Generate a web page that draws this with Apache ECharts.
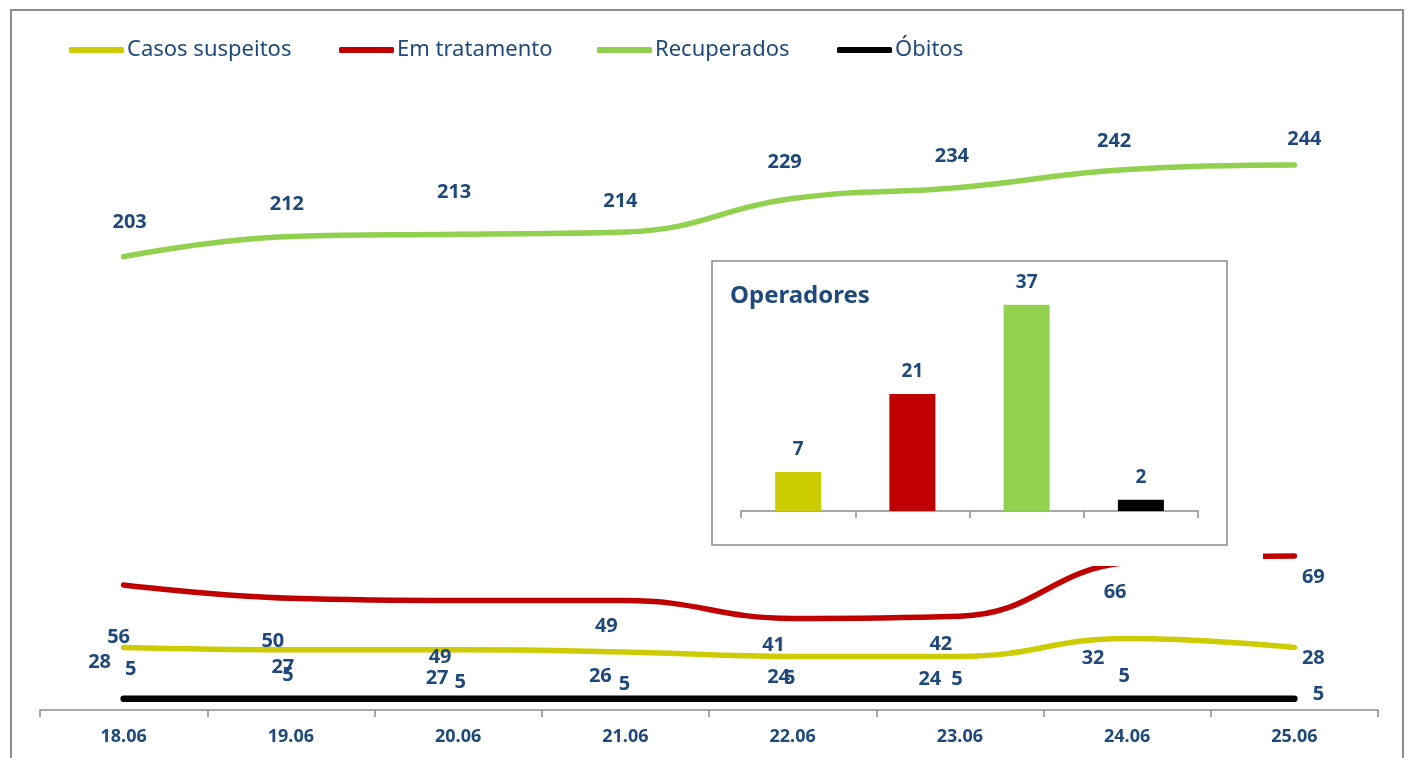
<!DOCTYPE html>
<html>
<head>
<meta charset="utf-8">
<script src="https://cdn.jsdelivr.net/npm/echarts@6/dist/echarts.min.js"></script>
<style>
html,body{margin:0;padding:0;background:#fff;}
#chart{width:1410px;height:758px;}
</style>
</head>
<body>
<div id="chart"></div>
<script>
// ---- data ----
const dates = ['18.06','19.06','20.06','21.06','22.06','23.06','24.06','25.06'];
const seriesNames = ['Casos suspeitos','Em tratamento','Recuperados','Óbitos'];
const casosSuspeitos = [28,27,27,26,24,24,32,28];
const emTratamento = [56,50,49,49,41,42,66,69];
const recuperados = [203,212,213,214,229,234,242,244];
const obitos = [5,5,5,5,5,5,5,5];
const operadoresValues = [7,21,37,2];

// ---- label nudges (layout, px) ----
const nudgeCasos = [[-24,15],[-8,18],[-21,29],[-25,24],[-14,21],[-30,23],[-34,20],[19,11]];
const nudgeTrat = [[-5,52],[-18,43],[-18,57],[-19,26],[-19,27],[-19,28],[-12,30],[19,21]];
const nudgeRec = [[6,-34],[-4,-32],[-4,-42],[-5,-31],[-8,-36],[-8,-31],[-13,-28],[10,-26]];
const nudgeObitos = [[7,-30],[-3,-24],[2,-17],[-1,-15],[-3,-21],[-3,-20],[-3,-23],[24,-5]];

const colors = ['#CCCC00','#C00000','#92D050','#000000'];
const textBlue = '#1F497D';
const FONT = '"Noto Sans", sans-serif';

function withNudge(vals, nudges){
  return vals.map((v,i)=>({value:v, label:{position:nudges[i], align:'center', verticalAlign:'middle'}}));
}

function lineSeries(name, vals, nudges, color, width){
  return {
    name: name, type:'line', xAxisIndex:0, yAxisIndex:0,
    data: withNudge(vals, nudges),
    smooth: 0.45, symbol:'circle', symbolSize:0.01, showSymbol:true, color: color,
    itemStyle:{color:color, opacity:0},
    lineStyle:{color:color, width:width, cap:'round'},
    label:{show:true, color:textBlue, opacity:1, fontFamily:FONT, fontWeight:'bold', fontSize:20},
    labelLayout:{hideOverlap:false},
    emphasis:{disabled:true}, z:2
  };
}

const legendLefts = [64,334,592,832];
const legends = seriesNames.map((n,i)=>({
  data:[{name:n, itemStyle:{color:colors[i], opacity:1}}], left:legendLefts[i], top:34, itemWidth:55, itemHeight:6, icon:'roundRect',
  itemGap:0, selectedMode:false,
  textStyle:{color:textBlue, fontFamily:FONT, fontSize:22, padding:[0,0,0,-2]}
}));

const chart = echarts.init(document.getElementById('chart'), null, {renderer:'canvas'});
chart.setOption({
  animation:false,
  backgroundColor:'#ffffff',
  title:{text:'Operadores', left:730, top:284, padding:0, z:60,
    textStyle:{color:textBlue, fontFamily:FONT, fontWeight:'bold', fontSize:24}},
  legend: legends,
  grid:[
    {left:40, right:32, top:40, bottom:48},
    {left:741, right:212, top:288, bottom:247}
  ],
  xAxis:[
    {type:'category', gridIndex:0, data:dates, boundaryGap:true,
     axisLine:{lineStyle:{color:'#8C8C8C', width:1.5}},
     axisTick:{show:true, interval:0, length:7, lineStyle:{color:'#8C8C8C', width:1.5}},
     axisLabel:{interval:0, color:textBlue, fontFamily:FONT, fontWeight:'bold', fontSize:18, margin:18}},
    {type:'category', gridIndex:1, data:seriesNames, boundaryGap:true, z:60,
     axisLine:{lineStyle:{color:'#8C8C8C', width:1.5}},
     axisTick:{show:true, interval:0, length:7, lineStyle:{color:'#8C8C8C', width:1.5}},
     axisLabel:{show:false}}
  ],
  yAxis:[
    {type:'value', gridIndex:0, min:0, max:300, show:false, splitLine:{show:false}},
    {type:'value', gridIndex:1, min:0, max:40, show:false, splitLine:{show:false}}
  ],
  graphic:[
    {type:'rect', z:50, silent:true, shape:{x:11, y:10, width:1392, height:760},
     style:{fill:'none', stroke:'#8C8C8C', lineWidth:2}},
    {type:'rect', z:50, silent:true, shape:{x:712, y:261, width:551, height:305},
     style:{fill:'#ffffff', stroke:'none'}},
    {type:'rect', z:51, silent:true, shape:{x:712, y:261, width:515, height:284},
     style:{fill:'#ffffff', stroke:'#8C8C8C', lineWidth:1.5}}
  ],
  series:[
    lineSeries(seriesNames[0], casosSuspeitos, nudgeCasos, colors[0], 5.5),
    lineSeries(seriesNames[1], emTratamento, nudgeTrat, colors[1], 5.5),
    lineSeries(seriesNames[2], recuperados, nudgeRec, colors[2], 5.5),
    lineSeries(seriesNames[3], obitos, nudgeObitos, colors[3], 6.5),
    {
      name:'Operadores', type:'bar', xAxisIndex:1, yAxisIndex:1, z:60, barWidth:46,
      data: operadoresValues.map((v,i)=>({value:v, itemStyle:{color:colors[i]}})),
      label:{show:true, position:'top', distance:13, color:textBlue, fontFamily:FONT, fontWeight:'bold', fontSize:19},
      emphasis:{disabled:true}
    }
  ]
});
</script>
</body>
</html>
